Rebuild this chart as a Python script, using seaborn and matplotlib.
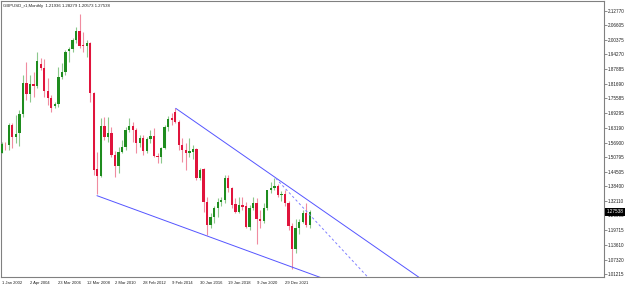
import matplotlib
matplotlib.use("Agg")
import matplotlib.pyplot as plt
import numpy as np
import pandas as pd
import seaborn as sns

# quarterly candles (open, high, low, close)
opens = [1.526, 1.565, 1.559, 1.643, 1.594, 1.608, 1.690, 1.823, 1.775, 1.816,
         1.809, 1.902, 1.886, 1.787, 1.759, 1.724, 1.731, 1.845, 1.869, 1.957,
         1.964, 2.004, 2.042, 1.983, 1.978, 1.990, 1.778, 1.457, 1.429, 1.639,
         1.594, 1.608, 1.516, 1.470, 1.530, 1.552, 1.622, 1.639, 1.622, 1.566,
         1.587, 1.535, 1.583, 1.597, 1.512, 1.506, 1.545, 1.634, 1.672, 1.700,
         1.657, 1.559, 1.537, 1.526, 1.530, 1.540, 1.417, 1.456, 1.319, 1.220,
         1.255, 1.290, 1.319, 1.326, 1.417, 1.375, 1.309, 1.276, 1.305, 1.300,
         1.213, 1.290, 1.315, 1.245, 1.238, 1.292, 1.367, 1.378, 1.383, 1.348,
         1.350, 1.314, 1.217, 1.116, 1.209, 1.234, 1.270, 1.21936]
highs = [1.573, 1.573, 1.650, 1.650, 1.686, 1.707, 1.855, 1.909, 1.855, 1.869,
         1.954, 1.926, 1.922, 1.841, 1.771, 1.742, 1.891, 1.908, 1.961, 1.975,
         2.011, 2.060, 2.114, 2.036, 2.004, 1.997, 1.785, 1.530, 1.672, 1.679,
         1.679, 1.636, 1.532, 1.550, 1.580, 1.636, 1.672, 1.658, 1.629, 1.601,
         1.601, 1.594, 1.622, 1.629, 1.523, 1.552, 1.645, 1.680, 1.695, 1.714,
         1.665, 1.587, 1.566, 1.587, 1.560, 1.545, 1.460, 1.460, 1.340, 1.270,
         1.300, 1.333, 1.340, 1.432, 1.432, 1.382, 1.333, 1.340, 1.340, 1.319,
         1.305, 1.340, 1.335, 1.285, 1.315, 1.370, 1.400, 1.420, 1.395, 1.362,
         1.370, 1.320, 1.230, 1.245, 1.245, 1.285, 1.315, 1.28279]
lows = [1.523, 1.537, 1.537, 1.545, 1.566, 1.554, 1.679, 1.749, 1.742, 1.763,
        1.799, 1.876, 1.763, 1.728, 1.700, 1.714, 1.721, 1.837, 1.855, 1.912,
        1.954, 1.989, 1.968, 1.954, 1.933, 1.742, 1.432, 1.350, 1.425, 1.580,
        1.573, 1.509, 1.423, 1.440, 1.523, 1.537, 1.615, 1.573, 1.523, 1.552,
        1.516, 1.523, 1.566, 1.509, 1.481, 1.481, 1.540, 1.620, 1.645, 1.650,
        1.537, 1.488, 1.453, 1.509, 1.500, 1.410, 1.410, 1.276, 1.177, 1.206,
        1.230, 1.255, 1.300, 1.312, 1.361, 1.290, 1.269, 1.269, 1.283, 1.206,
        1.199, 1.283, 1.140, 1.205, 1.230, 1.285, 1.355, 1.370, 1.340, 1.320,
        1.300, 1.200, 1.035, 1.100, 1.180, 1.230, 1.213, 1.20573]
closes = [1.563, 1.561, 1.643, 1.594, 1.605, 1.690, 1.820, 1.775, 1.816, 1.809,
          1.915, 1.886, 1.787, 1.759, 1.717, 1.731, 1.845, 1.869, 1.954, 1.965,
          2.004, 2.042, 1.980, 1.980, 1.990, 1.778, 1.453, 1.429, 1.639, 1.594,
          1.611, 1.516, 1.470, 1.530, 1.552, 1.622, 1.639, 1.622, 1.566, 1.587,
          1.535, 1.583, 1.597, 1.512, 1.506, 1.545, 1.634, 1.667, 1.665, 1.657,
          1.559, 1.537, 1.523, 1.533, 1.540, 1.417, 1.453, 1.319, 1.220, 1.255,
          1.290, 1.319, 1.326, 1.417, 1.375, 1.305, 1.276, 1.305, 1.297, 1.213,
          1.290, 1.312, 1.245, 1.238, 1.292, 1.367, 1.378, 1.383, 1.347, 1.350,
          1.314, 1.217, 1.116, 1.209, 1.234, 1.270, 1.220, 1.27538]

date_labels = ["1 Jan 2002", "2 Apr 2004", "23 Mar 2006", "12 Mar 2008", "2 Mar 2010",
               "28 Feb 2012", "9 Feb 2014", "30 Jan 2016", "19 Jan 2018", "9 Jan 2020",
               "29 Dec 2021"]
price_ticks = [2.12770, 2.06605, 2.00375, 1.94270, 1.87885, 1.81690, 1.75585, 1.69295,
               1.63190, 1.56900, 1.50795, 1.44505, 1.38400, 1.32110, 1.26005, 1.19715,
               1.13610, 1.07320, 1.01215]

# trend lines: (bar, price) anchors
upper_bars, upper_prices = [49.15, 119], [1.714, 0.986]
lower_bars, lower_prices = [26.9, 91], [1.344, 0.992]
dash_bars, dash_prices = [77.4, 104], [1.4176, 0.989]

last_price = 1.27538
header = "GBPUSD_r1,Monthly  1.21936 1.28279 1.20573 1.27538"

df = pd.DataFrame({"open": opens, "high": highs, "low": lows, "close": closes})
df["bar"] = np.arange(len(df))
df["up"] = df["close"] >= df["open"]

sns.set_style("white")
plt.rcParams['font.family'] = ['Liberation Sans', 'DejaVu Sans']

fig = plt.figure(figsize=(6.25, 2.86), dpi=100)
ax = fig.add_axes([1 / 625, 9 / 286, 603 / 625, 276 / 286])

green = "#1e8c1e"
red = "#e0143c"

for up, col, wick in [(True, green, "#8cc88c"), (False, red, "#f08ca0")]:
    d = df[df["up"] == up]
    ax.vlines(d["bar"], d["low"], d["high"], color=wick, lw=0.8, zorder=2)
    bottom = d[["open", "close"]].min(axis=1)
    height = (d["close"] - d["open"]).abs().clip(lower=0.004)
    ax.bar(d["bar"], height, bottom=bottom, width=0.65, color=col, linewidth=0, zorder=3)

ax.plot(upper_bars, upper_prices, color="#5555ff", lw=0.7, zorder=4)
ax.plot(lower_bars, lower_prices, color="#5555ff", lw=0.7, zorder=4)
ax.plot(dash_bars, dash_prices, color="#8080ff", lw=0.7, ls=(0, (2.5, 2.5)), zorder=4)

ax.set_xlim(-0.2, 170.1)
ax.set_ylim(0.9994, 2.1688)

ax.yaxis.tick_right()
ax.set_yticks(price_ticks)
ax.set_yticklabels([f"{v:.5f}" for v in price_ticks])
ax.set_xticks(np.arange(len(date_labels)) * 8)
ax.set_xticklabels(date_labels, ha="left")
ax.tick_params(axis="y", labelsize=3.3, length=2, width=0.5, color="#606060",
               pad=1, labelcolor="#202020", direction="out")
ax.tick_params(axis="x", labelsize=3.0, length=2, width=0.5, color="#606060",
               pad=0.8, labelcolor="#202020", direction="out")

for s in ax.spines.values():
    s.set_color("#808080")
    s.set_linewidth(0.8)

ax.text(0.004, 0.988, header, transform=ax.transAxes, fontsize=3.1, va="top", ha="left",
        color="#202020")

ax.annotate(f"{last_price:.5f}", xy=(1.0, last_price), xycoords=("axes fraction", "data"),
            xytext=(2.0, 0), textcoords="offset points", fontsize=3.3, color="white",
            va="center", ha="left", annotation_clip=False, zorder=10,
            bbox=dict(boxstyle="square,pad=0.3", fc="black", ec="black", lw=0))

fig.savefig("out.png", dpi=100)
